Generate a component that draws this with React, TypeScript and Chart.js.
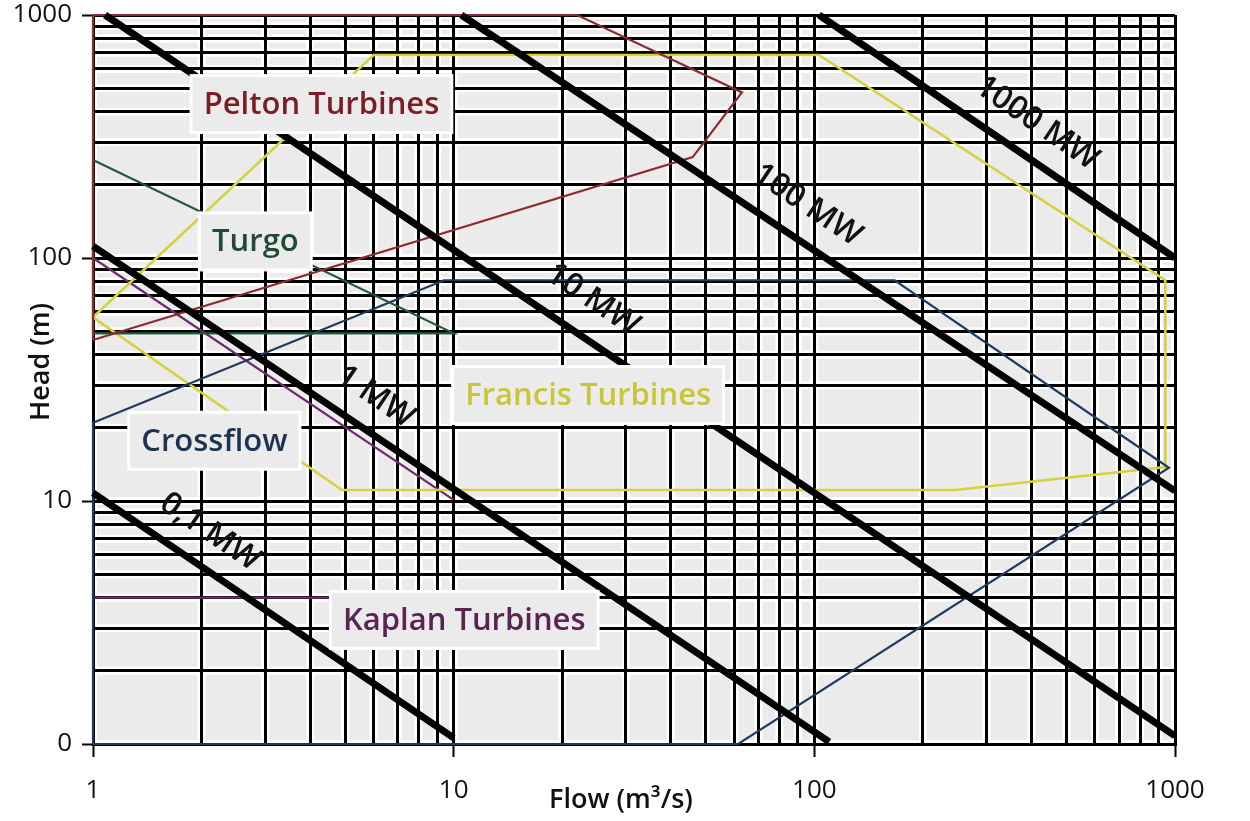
import React, { useEffect, useRef } from "react";
import { Chart, registerables } from "chart.js";

Chart.register(...registerables);

// ---- Axis ticks ----
const X_TICKS = [1, 10, 100, 1000];
const X_TICK_LABELS = ["1", "10", "100", "1000"];
const Y_TICKS = [1, 10, 100, 1000];
const Y_TICK_LABELS = ["0", "10", "100", "1000"];
const X_TITLE = "Flow (m³/s)";
const Y_TITLE = "Head (m)";
const GRID_MULTIPLIERS = [1, 2, 3, 4, 5, 6, 7, 8, 9];

// ---- Turbine application regions (Flow m³/s, Head m) ----
const PELTON_Q = [1, 46, 63, 22, 1, 1];
const PELTON_H = [46, 260, 480, 1000, 1000, 46];
const TURGO_Q = [1, 1, 10, 1];
const TURGO_H = [49, 253, 49, 49];
const CROSSFLOW_Q = [1, 1, 9.4, 167, 962, 61.5, 1];
const CROSSFLOW_H = [1, 21, 81, 81, 13.7, 1, 1];
const FRANCIS_Q = [1, 6, 103, 940, 940, 245, 4.9, 1];
const FRANCIS_H = [57, 685, 685, 81, 13.8, 11.1, 11.1, 57];
const KAPLAN_Q = [1, 10];
const KAPLAN_H = [100, 10.1];
const KAPLAN_LOW_Q = [1, 4.6];
const KAPLAN_LOW_H = [4, 4];

// ---- Constant power lines ----
const POWER_LABELS = ["0,1 MW", "1 MW", "10 MW", "100 MW", "1000 MW"];
const POWER_Q_START = [1, 1, 1.08, 10.5, 103];
const POWER_H_START = [10.8, 112, 1000, 1000, 1000];
const POWER_Q_END = [10, 110, 1000, 1000, 1000];
const POWER_H_END = [1.06, 1.02, 1.08, 11, 100];
const POWER_LABEL_Q = [2.11, 6.07, 24.3, 95.6, 414];
const POWER_LABEL_H = [7.45, 26.8, 67.2, 165, 359];

// ---- Region labels ----
const REGION_LABELS = ["Pelton Turbines", "Turgo", "Crossflow", "Francis Turbines", "Kaplan Turbines"];
const REGION_LABEL_Q = [4.3, 2.82, 2.17, 23.6, 10.7];
const REGION_LABEL_H = [430, 117, 17.7, 27.3, 3.24];
const REGION_TEXT_COLORS = ["#7a1e24", "#1f4a33", "#1d3354", "#c9c53a", "#5a2452"];

const COLORS = {
  pelton: "#8c2a2e",
  turgo: "#24583a",
  crossflow: "#1f3a5f",
  francis: "#d6d23e",
  kaplan: "#6a2d6a",
};

const FONT = "'Open Sans', 'Noto Sans', sans-serif";

function pts(q: number[], h: number[]) {
  return q.map((v, i) => ({ x: v, y: h[i] }));
}

function gridValues(ticks: number[]) {
  const out: number[] = [];
  for (let d = 0; d < ticks.length - 1; d++) {
    for (const m of GRID_MULTIPLIERS) out.push(ticks[d] * m);
  }
  out.push(ticks[ticks.length - 1]);
  return out;
}

const bgPlugin = {
  id: "bgGrid",
  beforeDraw(chart: any) {
    const { ctx, chartArea: a, scales } = chart;
    ctx.save();
    ctx.fillStyle = "#ffffff";
    ctx.fillRect(0, 0, chart.width, chart.height);
    ctx.fillStyle = "#ebebeb";
    ctx.fillRect(a.left, a.top, a.right - a.left, a.bottom - a.top);
    ctx.strokeStyle = "#ffffff";
    ctx.lineWidth = 8;
    ctx.beginPath();
    for (const v of gridValues(X_TICKS)) {
      const px = scales.x.getPixelForValue(v);
      ctx.moveTo(px, a.top);
      ctx.lineTo(px, a.bottom);
    }
    for (const v of gridValues(Y_TICKS)) {
      const py = scales.y.getPixelForValue(v);
      ctx.moveTo(a.left, py);
      ctx.lineTo(a.right, py);
    }
    ctx.stroke();
    ctx.restore();
  },
};

const labelPlugin = {
  id: "labels",
  afterDatasetsDraw(chart: any) {
    const { ctx, scales } = chart;
    const sx = scales.x;
    const sy = scales.y;
    ctx.save();
    // region label boxes
    ctx.font = `600 31px ${FONT}`;
    ctx.textAlign = "center";
    ctx.textBaseline = "middle";
    REGION_LABELS.forEach((t, i) => {
      const cx = sx.getPixelForValue(REGION_LABEL_Q[i]);
      const cy = sy.getPixelForValue(REGION_LABEL_H[i]);
      const w = ctx.measureText(t).width + 22;
      const h = 54;
      ctx.fillStyle = "#ffffff";
      ctx.fillRect(cx - w / 2 - 3, cy - h / 2 - 3, w + 6, h + 6);
      ctx.fillStyle = "#ebebeb";
      ctx.fillRect(cx - w / 2, cy - h / 2, w, h);
      ctx.fillStyle = REGION_TEXT_COLORS[i];
      ctx.fillText(t, cx, cy + 1);
    });
    // power labels
    ctx.font = `600 32px ${FONT}`;
    POWER_LABELS.forEach((t, i) => {
      const x1 = sx.getPixelForValue(POWER_Q_START[i]);
      const y1 = sy.getPixelForValue(POWER_H_START[i]);
      const x2 = sx.getPixelForValue(POWER_Q_END[i]);
      const y2 = sy.getPixelForValue(POWER_H_END[i]);
      const ang = Math.atan2(y2 - y1, x2 - x1);
      const cx = sx.getPixelForValue(POWER_LABEL_Q[i]);
      const cy = sy.getPixelForValue(POWER_LABEL_H[i]);
      ctx.save();
      ctx.translate(cx, cy);
      ctx.rotate(ang);
      ctx.fillStyle = "#111111";
      ctx.fillText(t, 0, 0);
      ctx.restore();
    });
    ctx.restore();
  },
  afterDraw(chart: any) {
    const { ctx } = chart;
    ctx.save();
    ctx.fillStyle = "#111111";
    ctx.font = `600 27px ${FONT}`;
    ctx.textAlign = "center";
    ctx.textBaseline = "middle";
    ctx.fillText(X_TITLE, 621, 800);
    ctx.translate(41, 362);
    ctx.rotate(-Math.PI / 2);
    ctx.fillText(Y_TITLE, 0, 0);
    ctx.restore();
  },
};

export default function App() {
  const ref = useRef<HTMLCanvasElement | null>(null);

  useEffect(() => {
    if (!ref.current) return;
    const line = (data: any[], color: string, width: number) => ({
      type: "line" as const,
      data,
      borderColor: color,
      backgroundColor: color,
      borderWidth: width,
      pointRadius: 0,
      fill: false,
      tension: 0,
      clip: 6,
      borderCapStyle: "butt" as const,
      borderJoinStyle: "miter" as const,
    });
    const powerSets = POWER_LABELS.map((_, i) =>
      line(
        [
          { x: POWER_Q_START[i], y: POWER_H_START[i] },
          { x: POWER_Q_END[i], y: POWER_H_END[i] },
        ],
        "#000000",
        7
      )
    );
    const datasets: any[] = [
      ...powerSets,
      line(pts(PELTON_Q, PELTON_H), COLORS.pelton, 2.2),
      line(pts(TURGO_Q, TURGO_H), COLORS.turgo, 2.2),
      line(pts(CROSSFLOW_Q, CROSSFLOW_H), COLORS.crossflow, 2.2),
      line(pts(FRANCIS_Q, FRANCIS_H), COLORS.francis, 2.6),
      line(pts(KAPLAN_Q, KAPLAN_H), COLORS.kaplan, 2.2),
      line(pts(KAPLAN_LOW_Q, KAPLAN_LOW_H), COLORS.kaplan, 2.2),
    ];

    const axis = (ticks: number[], labels: string[], isX: boolean) => ({
      type: "logarithmic" as const,
      min: ticks[0],
      max: ticks[ticks.length - 1],
      afterBuildTicks: (scale: any) => {
        scale.ticks = gridValues(ticks).map((v) => ({ value: v }));
      },
      afterFit: (scale: any) => {
        if (isX) {
          scale.height = 77;
          scale.paddingLeft = 0;
          scale.paddingRight = 0;
        } else {
          scale.width = 93;
          scale.paddingTop = 0;
          scale.paddingBottom = 0;
        }
      },
      ticks: {
        autoSkip: false,
        maxRotation: 0,
        minRotation: 0,
        padding: isX ? 18 : 10,
        color: "#111111",
        font: { family: FONT, size: 26, weight: "400" as any },
        callback: (v: any) => {
          const idx = ticks.indexOf(Number(v));
          return idx >= 0 ? labels[idx] : "";
        },
      },
      grid: {
        color: "#000000",
        lineWidth: 3,
        drawTicks: true,
        tickLength: isX ? 13 : 11,
        tickWidth: 2,
        tickColor: (c: any) =>
          c.tick && ticks.indexOf(c.tick.value) >= 0 ? "#000000" : "rgba(0,0,0,0)",
      },
      border: { color: "#000000", width: 3 },
    });

    const chart = new Chart(ref.current, {
      type: "line",
      data: { datasets },
      options: {
        responsive: false,
        animation: false,
        parsing: true as any,
        layout: { padding: { left: 0, top: 15, right: 75, bottom: 0 } },
        plugins: { legend: { display: false }, tooltip: { enabled: false } },
        scales: {
          x: axis(X_TICKS, X_TICK_LABELS, true) as any,
          y: axis(Y_TICKS, Y_TICK_LABELS, false) as any,
        },
      },
      plugins: [bgPlugin, labelPlugin],
    });
    return () => chart.destroy();
  }, []);

  return (
    <div style={{ position: "absolute", left: 0, top: 0, width: 1250, height: 821, background: "#fff" }}>
      <canvas ref={ref} width={1250} height={821} />
    </div>
  );
}
